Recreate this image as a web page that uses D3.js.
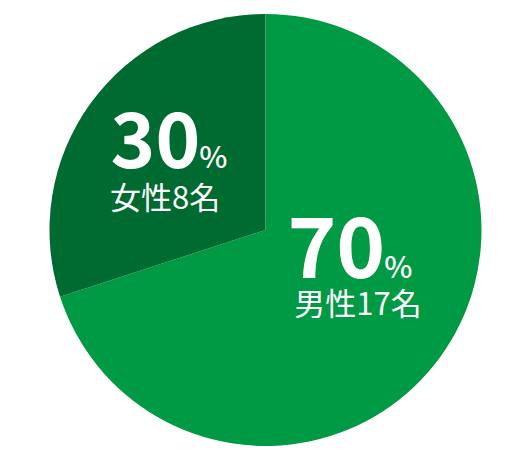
<!DOCTYPE html>
<html>
<head>
<meta charset="utf-8">
<script src="https://cdn.jsdelivr.net/npm/d3@7"></script>
<style>
  html, body { margin: 0; padding: 0; background: #fff; }
  text { font-family: "Noto Sans CJK JP", "Noto Sans", sans-serif; fill: #fff; }
</style>
</head>
<body>
<div id="chart"></div>
<script>
// data
const genders = ['男性', '女性'];
const percents = [70, 30];
const counts = [17, 8];
const colours = ['#009944', '#006b30'];

const width = 532;
const height = 460;
const cx = 265.5;
const cy = 230;
const radius = 216;

const data = genders.map((g, i) => ({ gender: g, percent: percents[i], count: counts[i] }));

const svg = d3.select('#chart')
  .append('svg')
  .attr('width', width)
  .attr('height', height);

const chart = svg.append('g').attr('transform', `translate(${cx}, ${cy})`);

const colourScale = d3.scaleOrdinal().domain(genders).range(colours);

const pie = d3.pie().sort(null).value(d => d.percent);
const arc = d3.arc().innerRadius(0).outerRadius(radius);
const labelArc = d3.arc().innerRadius(118).outerRadius(118);

const arcs = pie(data);

chart.selectAll('path')
  .data(arcs)
  .join('path')
  .attr('d', arc)
  .attr('fill', d => colourScale(d.data.gender));

// labels, nudged a bit from the centroid like the original
const nudge = [
  { big: [-11, -21], small: [-3, 16], size: 83 },
  { big: [-1, 7], small: [-5, 48], size: 76 }
];

const labels = chart.selectAll('g.label')
  .data(arcs)
  .join('g')
  .attr('class', 'label')
  .attr('transform', d => `translate(${labelArc.centroid(d)})`);

const big = labels.append('text')
  .attr('text-anchor', 'middle')
  .attr('x', (d, i) => nudge[i].big[0])
  .attr('y', (d, i) => nudge[i].big[1]);

big.append('tspan')
  .style('font-weight', 700)
  .style('font-size', (d, i) => nudge[i].size + 'px')
  .text(d => d.data.percent);

big.append('tspan')
  .style('font-weight', 500)
  .style('font-size', '30px')
  .attr('dx', -1)
  .text('%');

labels.append('text')
  .attr('text-anchor', 'middle')
  .attr('x', (d, i) => nudge[i].small[0])
  .attr('y', (d, i) => nudge[i].small[1])
  .style('font-size', '31px')
  .style('font-weight', 400)
  .text(d => `${d.data.gender}${d.data.count}名`);
</script>
</body>
</html>
